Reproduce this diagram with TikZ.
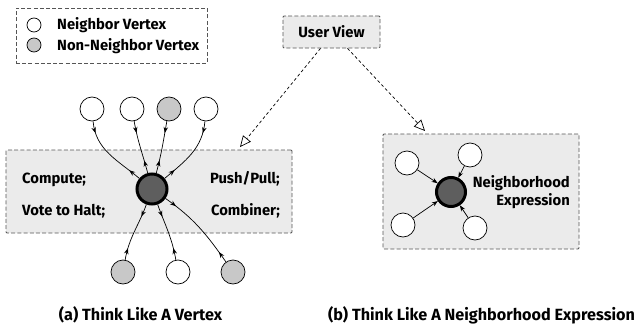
\documentclass[tikz,border=0pt]{standalone}
\usepackage{fontspec}
\setmainfont{Fira Sans}
\usetikzlibrary{arrows.meta,decorations.markings,calc}
\definecolor{boxfill}{HTML}{EBEBEB}
\definecolor{nonnb}{HTML}{C8C8C8}
\definecolor{centerfill}{HTML}{5E5E5E}
\definecolor{dashgray}{HTML}{555555}
\tikzset{
  every node/.style={font=\bfseries\fontsize{14.8}{16}\selectfont, inner sep=0pt},
  capfont/.style={font=\bfseries\fontsize{16.2}{18}\selectfont},
  dbox/.style={draw=dashgray, fill=boxfill, dash pattern=on 4pt off 2.2pt, line width=0.8pt, rounded corners=1pt},
  lbox/.style={draw=dashgray, dash pattern=on 4pt off 2.2pt, line width=0.8pt},
  nbv/.style={circle, draw=black, line width=0.7pt, fill=white, minimum size=24pt},
  nnv/.style={circle, draw=black, line width=0.7pt, fill=nonnb, minimum size=24pt},
  lnbv/.style={circle, draw=black, line width=0.7pt, fill=white, minimum size=14pt},
  lnnv/.style={circle, draw=black, line width=0.7pt, fill=nonnb, minimum size=14pt},
  ctr/.style={circle, draw=black, line width=3pt, fill=centerfill, minimum size=30pt},
  ctrb/.style={circle, draw=black, line width=3pt, fill=centerfill, minimum size=29pt},
  tip/.tip={Stealth[length=6pt, width=4.5pt]},
  bidir/.style={line width=0.7pt, postaction={decorate}, decoration={markings,
     mark=at position 12pt with {\arrow{tip}},
     mark=at position -13pt with {\arrowreversed{tip}}}},
  inarrow/.style={line width=0.7pt, -{Stealth[length=6pt, width=4.5pt]}},
  uvarrow/.style={line width=0.7pt, dash pattern=on 3pt off 2.5pt, -{Triangle[open, length=11pt, width=10pt, line width=0.7pt]}},
}
\begin{document}
\begin{tikzpicture}[x=1pt, y=-1pt]
\useasboundingbox (0,0) rectangle (640,324);
% legend
\node[lbox, minimum width=191pt, minimum height=55pt] (legend) at (111.5,35.5) {};
\node[lnbv] (l1) at (34,25) {};
\node[lnnv] (l2) at (34,45) {};
\node[anchor=base west] (l1t) at (57,29.5) {Neighbor Vertex};
\node[anchor=base west] (l2t) at (57,50) {Non-Neighbor Vertex};
% user view
\node[dbox, minimum width=97pt, minimum height=32pt] (uv) at (331.5,32) {User View};
% box a
\node[dbox, minimum width=286pt, minimum height=83pt] (ba) at (149,191.5) {};
\node[anchor=base west] (cmp) at (22,183) {Compute;};
\node[anchor=base west] (vth) at (22,215) {Vote to Halt;};
\node[anchor=base east] (pp) at (280,183) {Push/Pull;};
\node[anchor=base east] (cmb) at (280,215) {Combiner;};
\node[ctr] (c) at (152,189) {};
\node[nbv] (t1) at (92,109) {};
\node[nbv] (t2) at (132,109) {};
\node[nnv] (t3) at (169,109) {};
\node[nbv] (t4) at (206,109) {};
\node[nnv] (b1) at (123,272) {};
\node[nbv] (b2) at (178,272) {};
\node[nnv] (b3) at (233,272) {};
\draw[bidir] (t1) to[out=-85, in=140] (c);
\draw[bidir] (t2) to[out=-80, in=105] (c);
\draw[bidir] (t3) to[out=-100, in=75] (c);
\draw[bidir] (t4) to[out=-95, in=40] (c);
\draw[bidir] (b1) to[out=80, in=-110] (c);
\draw[bidir] (b2) to[out=100, in=-70] (c);
\draw[bidir] (b3) to[out=125, in=-35] (c);
% box b
\node[dbox, minimum width=196pt, minimum height=115pt] (bb) at (481,191.5) {};
\node[ctrb] (c2) at (451,192) {};
\node[nbv] (n1) at (407,163) {};
\node[nbv] (n2) at (470,155) {};
\node[nbv] (n3) at (403,225) {};
\node[nbv] (n4) at (475,228) {};
\draw[inarrow] (n1) -- (c2);
\draw[inarrow] (n2) -- (c2);
\draw[inarrow] (n3) -- (c2);
\draw[inarrow] (n4) -- (c2);
\node[anchor=base east] (ne1) at (570,187) {Neighborhood};
\node[anchor=base east] (ne2) at (570,205) {Expression};
% user view arrows
\coordinate (ta) at (240,147);
\coordinate (tb) at (425,131);
\draw[uvarrow] ([xshift=-11pt]uv.south) -- (ta);
\draw[uvarrow] ([xshift=16pt]uv.south) -- (tb);
% captions
\node[anchor=base, capfont] (capa) at (140.5,320) {(a) Think Like A Vertex};
\node[anchor=base, capfont] (capb) at (481.5,320) {(b) Think Like A Neighborhood Expression};
\end{tikzpicture}
\end{document}
